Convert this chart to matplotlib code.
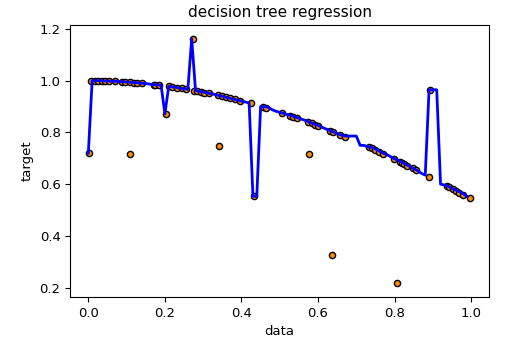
import numpy as np
import matplotlib
matplotlib.use('Agg')
import matplotlib.pyplot as plt

# sample points (data, target)
data_x = [0.003, 0.008, 0.018, 0.026, 0.035, 0.044, 0.053, 0.07, 0.088, 0.097,
          0.11, 0.11, 0.118, 0.127, 0.14, 0.171, 0.175, 0.184, 0.202, 0.21,
          0.219, 0.232, 0.245, 0.254, 0.274, 0.276, 0.285, 0.294, 0.303, 0.314,
          0.338, 0.342, 0.349, 0.36, 0.371, 0.382, 0.395, 0.425, 0.432, 0.457,
          0.464, 0.507, 0.526, 0.535, 0.544, 0.575, 0.577, 0.583, 0.592, 0.601,
          0.632, 0.636, 0.64, 0.658, 0.671, 0.732, 0.741, 0.75, 0.759, 0.77,
          0.798, 0.807, 0.814, 0.82, 0.824, 0.833, 0.849, 0.855, 0.89, 0.892,
          0.937, 0.943, 0.952, 0.961, 0.969, 0.978, 0.996]
data_y = [0.72, 1.0, 1.0, 1.0, 0.999, 0.999, 0.999, 0.998, 0.996, 0.995,
          0.994, 0.715, 0.993, 0.992, 0.99, 0.985, 0.985, 0.983, 0.872, 0.978,
          0.976, 0.973, 0.97, 0.968, 1.162, 0.962, 0.96, 0.957, 0.954, 0.951,
          0.943, 0.747, 0.94, 0.936, 0.932, 0.928, 0.923, 0.915, 0.553, 0.897,
          0.894, 0.874, 0.865, 0.86, 0.856, 0.839, 0.717, 0.835, 0.83, 0.825,
          0.807, 0.325, 0.802, 0.791, 0.783, 0.744, 0.738, 0.732, 0.726, 0.718,
          0.698, 0.218, 0.687, 0.682, 0.679, 0.672, 0.661, 0.656, 0.629, 0.965,
          0.593, 0.588, 0.581, 0.573, 0.567, 0.56, 0.545]

# tree prediction on test grid 0.00 .. 0.99
grid_x = np.round(np.arange(0.0, 1.0, 0.01), 2)
pred_y = [0.72, 1.0, 1.0, 1.0, 0.999, 0.999, 0.998, 0.998, 0.997, 0.996,
          0.995, 0.994, 0.993, 0.992, 0.99, 0.989, 0.987, 0.985, 0.984, 0.983,
          0.872, 0.978, 0.976, 0.974, 0.971, 0.969, 0.967, 1.162, 0.962, 0.959,
          0.956, 0.953, 0.95, 0.947, 0.943, 0.94, 0.936, 0.932, 0.929, 0.925,
          0.921, 0.918, 0.914, 0.553, 0.553, 0.9, 0.9, 0.897, 0.888, 0.882,
          0.878, 0.874, 0.869, 0.865, 0.86, 0.855, 0.85, 0.845, 0.838, 0.833,
          0.827, 0.82, 0.814, 0.808, 0.802, 0.796, 0.79, 0.786, 0.786, 0.786,
          0.786, 0.75, 0.75, 0.745, 0.742, 0.736, 0.728, 0.72, 0.714, 0.706,
          0.698, 0.692, 0.684, 0.676, 0.668, 0.66, 0.652, 0.642, 0.635, 0.965,
          0.965, 0.965, 0.6, 0.597, 0.592, 0.584, 0.577, 0.57, 0.562, 0.552]

fig = plt.figure(figsize=(5.06, 3.44), dpi=100)
ax = fig.add_axes([0.139, 0.136, 0.827, 0.791])

ax.scatter(data_x, data_y, s=20, c='darkorange', edgecolor='black', linewidth=1, zorder=2)
ax.plot(grid_x, pred_y, color='blue', linewidth=2, zorder=3)

ax.set_xlim(-0.047, 1.046)
ax.set_ylim(0.163, 1.215)
ax.set_xticks([0.0, 0.2, 0.4, 0.6, 0.8, 1.0])
ax.set_yticks([0.2, 0.4, 0.6, 0.8, 1.0, 1.2])
ax.tick_params(labelsize=9.5)
ax.set_xlabel('data', fontsize=9.5)
ax.set_ylabel('target', fontsize=9.5)
ax.set_title('decision tree regression', fontsize=11)

fig.savefig('out.png', dpi=100)
